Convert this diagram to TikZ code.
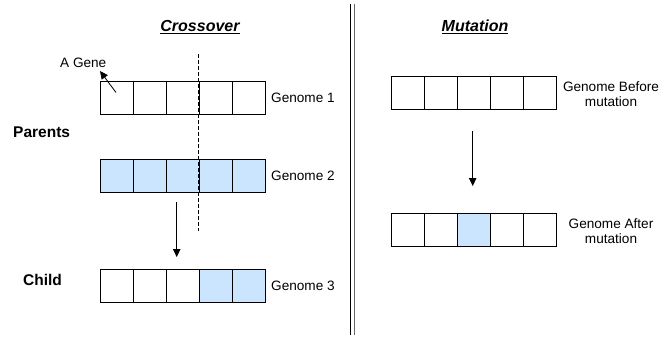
\documentclass[tikz,border=0pt]{standalone}
\usepackage{fontspec}
\setmainfont{Liberation Sans}
\usetikzlibrary{arrows.meta}
\begin{document}
\begin{tikzpicture}[x=1pt,y=-1pt,
  cell/.style={draw=black,line width=0.8pt,minimum width=33pt,minimum height=33pt,inner sep=0pt,outer sep=0pt,anchor=north west},
  lbl/.style={font=\fontsize{13.6}{15}\selectfont,inner sep=0pt,align=center},
  blbl/.style={font=\fontsize{15.5}{17}\selectfont\bfseries,inner sep=0pt},
  ttl/.style={font=\fontsize{16}{18}\selectfont\bfseries\itshape,inner sep=0pt},
  arr/.style={-{Triangle[length=8pt,width=7.5pt]},line width=0.8pt}]
\useasboundingbox (0,0) rectangle (660,338);
\definecolor{cellblue}{RGB}{204,229,255}
% Genome 1
\foreach \i in {1,...,5}{\node[cell] (a\i) at ({100+33*(\i-1)},81.5) {};}
% Genome 2
\foreach \i in {1,...,5}{\node[cell,fill=cellblue] (b\i) at ({100+33*(\i-1)},159) {};}
% Genome 3
\foreach \i in {1,...,3}{\node[cell] (c\i) at ({100+33*(\i-1)},269) {};}
\foreach \i in {4,5}{\node[cell,fill=cellblue] (c\i) at ({100+33*(\i-1)},269) {};}
% Before mutation
\foreach \i in {1,...,5}{\node[cell] (m\i) at ({391+33*(\i-1)},76) {};}
% After mutation
\foreach \i in {1,2,4,5}{\node[cell] (n\i) at ({391+33*(\i-1)},213) {};}
\node[cell,fill=cellblue] (n3) at (457,213) {};
% labels
\node[lbl,anchor=west] (l1) at (271,98) {Genome 1};
\node[lbl,anchor=west] (l2) at (271,176) {Genome 2};
\node[lbl,anchor=west] (l3) at (271,286) {Genome 3};
\node[lbl] (l4) at (611,94) {Genome Before\\mutation};
\node[lbl] (l5) at (611,231) {Genome After\\mutation};
\node[lbl,anchor=west] (gene) at (60,63) {A Gene};
\node[blbl,anchor=west] (par) at (13,132) {Parents};
\node[blbl,anchor=west] (chi) at (23,280) {Child};
\node[ttl] (t1) at (200,27) {\underline{Crossover}};
\node[ttl] (t2) at (475,27) {\underline{Mutation}};
% gene pointer
\coordinate (gp) at (116,92.5);
\coordinate (gt) at (100,71);
\draw[arr] (gp) -- (gt);
% crossover point
\coordinate (d1) at (198.7,54);
\coordinate (d2) at (198.7,231);
\draw[dashed,dash pattern=on 4pt off 2pt,line width=0.7pt] (d1) -- (d2);
% arrows
\coordinate (x1) at (176.7,202);
\coordinate (x2) at (176.7,257);
\draw[arr] (x1) -- (x2);
\coordinate (y1) at (472.7,131);
\coordinate (y2) at (472.7,186);
\draw[arr] (y1) -- (y2);
% divider
\coordinate (v1) at (350.5,4);
\coordinate (v2) at (350.5,335);
\coordinate (w1) at (354.5,4);
\coordinate (w2) at (354.5,335);
\draw[line width=1pt] (v1) -- (v2);
\draw[line width=1pt,black!60] (w1) -- (w2);
\end{tikzpicture}
\end{document}
